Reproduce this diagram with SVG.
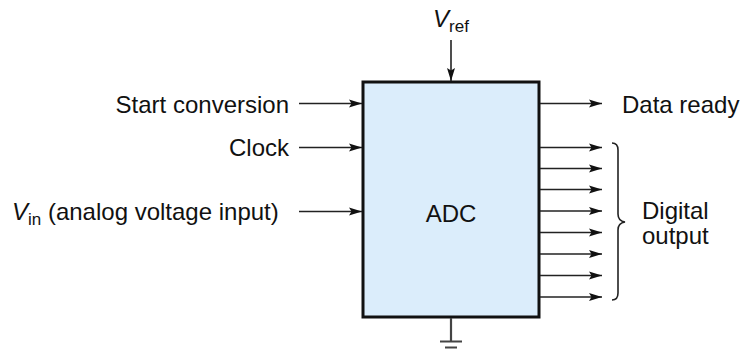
<svg xmlns="http://www.w3.org/2000/svg" width="748" height="351" viewBox="0 0 748 351">
<defs>
<marker id="ah" markerUnits="userSpaceOnUse" markerWidth="14" markerHeight="10" refX="13" refY="4.5" orient="auto">
<path d="M0,0.5 L13,4.5 L0,8.5 L2.5,4.5 Z" fill="#111"/>
</marker>
</defs>
<style>
text{font-family:"Liberation Sans",Arial,sans-serif;font-size:24px;fill:#111}
.it{font-style:italic}
.sub{font-size:17px}
.sm{font-size:22px}
.w{stroke:#222;stroke-width:1.6;fill:none}
.g{stroke:#444;stroke-width:2.2;fill:none}
</style>
<rect width="748" height="351" fill="#fff"/>
<g id="adc">
<rect x="363" y="82" width="176" height="235" fill="#dbedfb" stroke="#111" stroke-width="3"/>
<text x="451" y="222" text-anchor="middle">ADC</text>
</g>
<g id="vref">
<text x="433" y="27"><tspan class="it">V</tspan><tspan class="sub" dy="5">ref</tspan></text>
</g>
<g id="start">
<text x="289" y="113" text-anchor="end">Start conversion</text>
</g>
<g id="clock">
<text x="289" y="156" text-anchor="end">Clock</text>
</g>
<g id="vin">
<text x="12" y="220"><tspan class="it">V</tspan><tspan class="sub" dy="5">in</tspan><tspan dy="-5"> (analog voltage input)</tspan></text>
</g>
<g id="dataready">
<text x="622" y="113">Data ready</text>
</g>
<g id="digital">
<text x="642" y="219">Digital</text>
<text x="642" y="244">output</text>
<path class="w" d="M612,143 Q618,143 618,150 L618,214 Q618,221 625,222 Q618,223 618,230 L618,293 Q618,300 612,300"/>
</g>
<g id="ground">
<path class="g" d="M451,318 V341 M440,341.5 H462 M445,347.5 H457"/>
</g>
<g id="connectors">
<path class="w" marker-end="url(#ah)" d="M451,40 V81"/>
<path class="w" marker-end="url(#ah)" d="M299,103.5 H362"/>
<path class="w" marker-end="url(#ah)" d="M299,147.5 H362"/>
<path class="w" marker-end="url(#ah)" d="M299,211.5 H362"/>
<path class="w" marker-end="url(#ah)" d="M540,103.5 H602"/>
<path class="w" marker-end="url(#ah)" d="M540,147.5 H602"/>
<path class="w" marker-end="url(#ah)" d="M540,168.5 H602"/>
<path class="w" marker-end="url(#ah)" d="M540,189.5 H602"/>
<path class="w" marker-end="url(#ah)" d="M540,211 H602"/>
<path class="w" marker-end="url(#ah)" d="M540,232.5 H602"/>
<path class="w" marker-end="url(#ah)" d="M540,254 H602"/>
<path class="w" marker-end="url(#ah)" d="M540,275.5 H602"/>
<path class="w" marker-end="url(#ah)" d="M540,297 H602"/>
</g>
</svg>
